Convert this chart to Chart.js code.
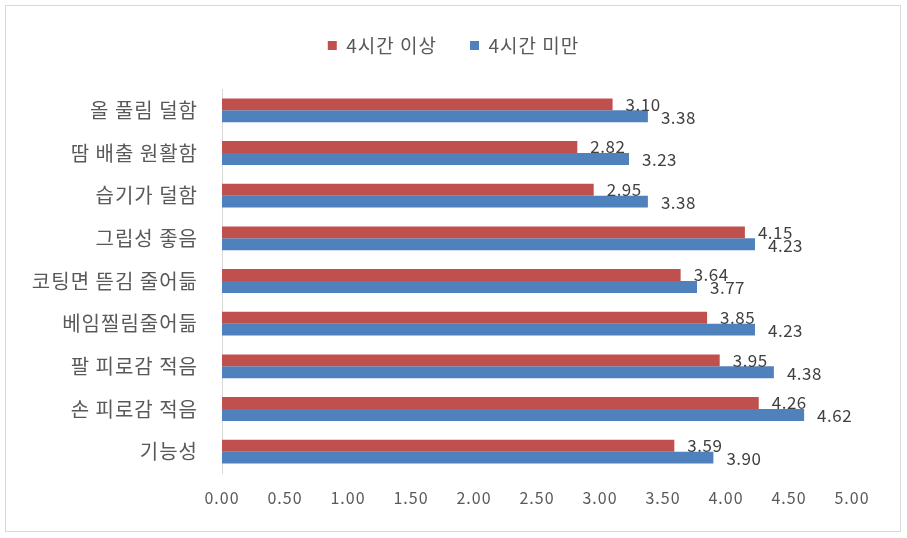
<!DOCTYPE html>
<html>
<head>
<meta charset="utf-8">
<script src="https://cdn.jsdelivr.net/npm/chart.js@4"></script>
<style>
  html, body { margin: 0; padding: 0; background: #fff; }
  #wrap { width: 907px; height: 538px; }
</style>
</head>
<body>
<div id="wrap"><canvas id="bar-chart" width="907" height="538"></canvas></div>
<script>
const categories = ['올 풀림 덜함', '땀 배출 원활함', '습기가 덜함', '그립성 좋음', '코팅면 뜯김 줄어듦',
  '베임찔림줄어듦', '팔 피로감 적음', '손 피로감 적음', '기능성'];
const over4h = [3.10, 2.82, 2.95, 4.15, 3.64, 3.85, 3.95, 4.26, 3.59];
const under4h = [3.38, 3.23, 3.38, 4.23, 3.77, 4.23, 4.38, 4.62, 3.90];
const seriesNames = ['4시간 이상', '4시간 미만'];
const xTicks = [0, 0.5, 1, 1.5, 2, 2.5, 3, 3.5, 4, 4.5, 5];

const fontKr = '"Noto Sans CJK KR", "Noto Sans", sans-serif';
const textGray = '#595959';

// wider letter spacing, like the original's font
const spacing = {
  id: 'spacing',
  beforeUpdate(chart) { chart.ctx.letterSpacing = '1px'; },
  beforeDraw(chart) { chart.ctx.letterSpacing = '1px'; }
};

// white background + light frame
const frame = {
  id: 'frame',
  beforeDraw(chart) {
    const c = chart.ctx;
    c.save();
    c.fillStyle = '#fff';
    c.fillRect(0, 0, chart.width, chart.height);
    c.strokeStyle = '#d9d9d9';
    c.lineWidth = 1;
    c.strokeRect(5.5, 5.5, chart.width - 12, chart.height - 12);
    c.restore();
  }
};

// value labels at the end of each bar
const valueLabels = {
  id: 'valueLabels',
  afterDatasetsDraw(chart) {
    const c = chart.ctx;
    c.save();
    c.letterSpacing = '0.5px';
    c.font = '17px ' + fontKr;
    c.fillStyle = '#404040';
    c.textAlign = 'left';
    c.textBaseline = 'middle';
    chart.data.datasets.forEach((ds, i) => {
      chart.getDatasetMeta(i).data.forEach((bar, j) => {
        const dy = i === 0 ? 0 : 1;
        c.fillText(ds.data[j].toFixed(2), bar.x + 13, bar.y + dy);
      });
    });
    c.restore();
  }
};

// fixed legend height so the plot starts lower, and centre it on the whole canvas
const legendGap = {
  id: 'legendGap',
  beforeInit(chart) {
    const fit = chart.legend.fit;
    chart.legend.fit = function () {
      fit.call(this);
      this.height = 86;
    };
  },
  afterLayout(chart) {
    chart.legend.left = 0;
    chart.legend.right = chart.width;
    chart.legend.width = chart.width;
  }
};

new Chart(document.getElementById('bar-chart'), {
  type: 'bar',
  data: {
    labels: categories,
    datasets: [{
      label: seriesNames[0],
      data: over4h,
      backgroundColor: '#C0504D'
    }, {
      label: seriesNames[1],
      data: under4h,
      backgroundColor: '#4F81BD'
    }]
  },
  options: {
    indexAxis: 'y',
    responsive: false,
    animation: false,
    layout: { padding: { top: 3, right: 55, bottom: 26, left: 0 } },
    datasets: { bar: { categoryPercentage: 0.56, barPercentage: 1.0 } },
    scales: {
      x: {
        min: 0,
        max: 5,
        afterBuildTicks(s) { s.ticks = xTicks.map(v => ({ value: v })); },
        afterFit(s) { s.height = 39; },
        grid: { display: false, drawTicks: false },
        border: { display: false },
        ticks: {
          padding: 15,
          color: textGray,
          font: { size: 16, family: fontKr },
          callback: v => Number(v).toFixed(2)
        }
      },
      y: {
        afterFit(s) { s.width = 222; },
        grid: { display: false, drawTicks: false },
        border: { display: true, color: '#d9d9d9' },
        ticks: {
          padding: 24,
          color: textGray,
          font: { size: 20, family: fontKr }
        }
      }
    },
    plugins: {
      legend: {
        position: 'top',
        labels: {
          boxWidth: 9,
          boxHeight: 9,
          padding: 33,
          color: textGray,
          font: { size: 19, family: fontKr }
        }
      },
      tooltip: { enabled: false }
    }
  },
  plugins: [spacing, frame, valueLabels, legendGap]
});
</script>
</body>
</html>
